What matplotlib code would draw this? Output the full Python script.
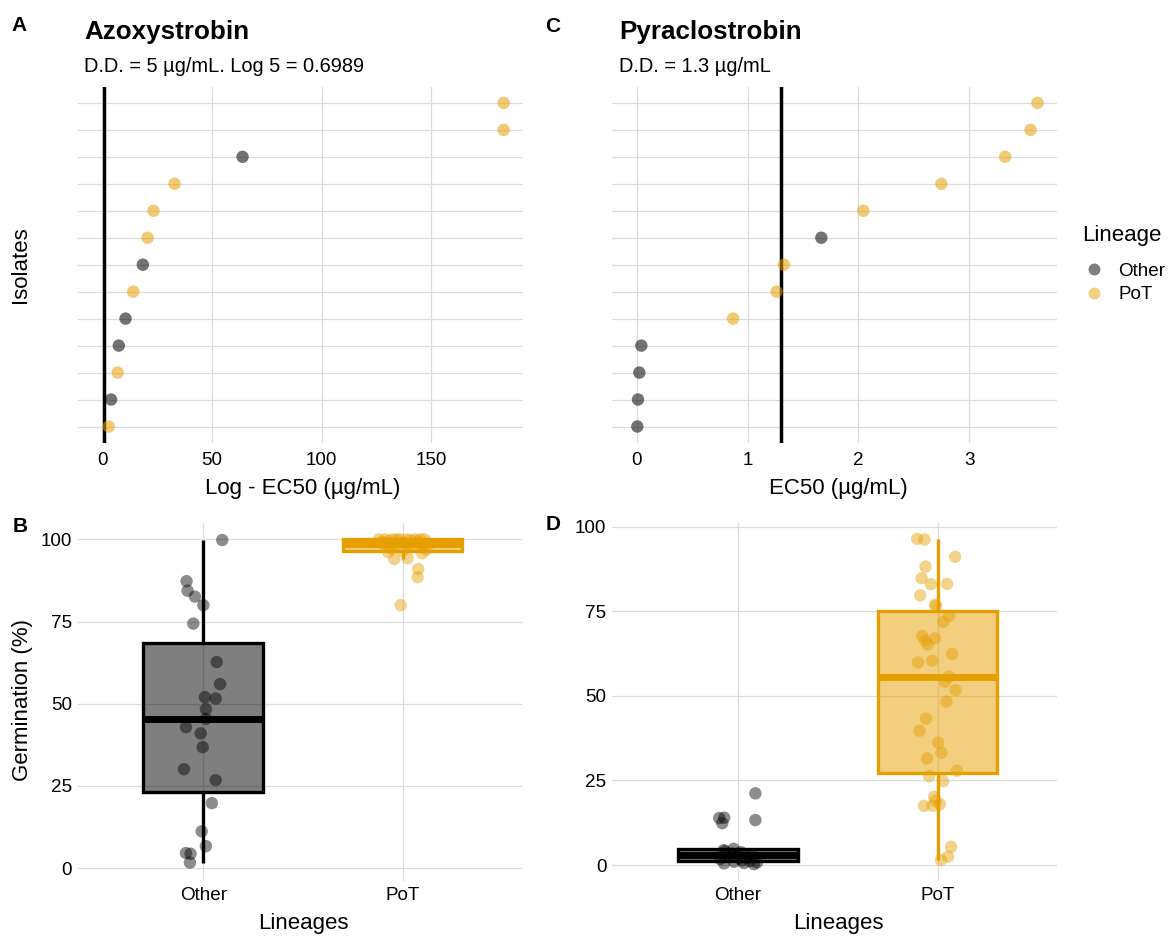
import numpy as np
import matplotlib
matplotlib.use('Agg')
import matplotlib.pyplot as plt
from matplotlib.lines import Line2D

# Arial-compatible font for everything
plt.rcParams['font.family'] = ['Liberation Sans', 'DejaVu Sans']

W, H = 1171, 936

lineages = ['Other', 'PoT']
colores = {'Other': '#000000', 'PoT': '#E69F00'}

# --- A: azoxystrobin EC50 por aislado (de abajo hacia arriba) ---
a_ec50 = [2.7, 3.8, 6.8, 7.3, 10.4, 13.9, 18.3, 20.5, 23.2, 32.8, 63.9, 183.3, 183.3]
a_lineage = ['PoT', 'Other', 'PoT', 'Other', 'Other', 'PoT', 'Other',
             'PoT', 'PoT', 'PoT', 'Other', 'PoT', 'PoT']
a_dd = 0.6989

# --- C: pyraclostrobin EC50 por aislado (de abajo hacia arriba) ---
c_ec50 = [0.006, 0.012, 0.024, 0.042, 0.87, 1.262, 1.328, 1.666, 2.045, 2.75, 3.325, 3.554, 3.617]
c_lineage = ['Other', 'Other', 'Other', 'Other', 'PoT', 'PoT', 'PoT',
             'Other', 'PoT', 'PoT', 'PoT', 'PoT', 'PoT']
c_dd = 1.3

# --- B: germinacion con azoxystrobin ---
b_other = [99.8, 87.3, 84.4, 82.6, 80.0, 74.4, 62.7, 56.0, 52.0, 51.6, 48.4, 45.4,
           42.9, 41.0, 36.8, 30.1, 26.8, 19.8, 11.2, 6.7, 4.6, 4.4, 1.7]
b_other_jit = [0.095, -0.084, -0.079, -0.042, 0.0, -0.05, 0.067, 0.084, 0.008, 0.062, 0.013, 0.013,
               -0.087, -0.013, -0.003, -0.097, 0.062, 0.043, -0.008, 0.013, -0.087, -0.064, -0.067]
b_pot = [100, 100, 100, 100, 100, 100, 100, 100, 100, 99.8, 99.6, 99.4, 99.2, 99.0, 98.7,
         98.6, 98.5, 98.3, 98.0, 97.7, 97.3, 96.9, 96.5, 96.1, 95.8, 94.3, 94.0, 91.0, 88.5, 80.0]
b_pot_jit = [-0.12, -0.089, -0.05, -0.013, 0.02, 0.062, 0.09, 0.11, -0.03,
             0.04, -0.07, 0.075, -0.105, 0.005, 0.115, -0.04, 0.03, -0.09, 0.1, 0.06,
             -0.06, 0.12, 0.0, -0.072, 0.098, 0.025, -0.042, 0.078, 0.075, -0.01]

# --- D: germinacion con pyraclostrobin ---
d_other = [0.3, 0.5, 0.6, 0.8, 1.0, 1.2, 1.4, 1.8, 2.2, 2.6, 2.9, 3.1, 3.4, 3.8, 4.1, 4.4, 4.8,
           12.4, 13.3, 13.9, 14.0, 21.2]
d_other_jit = [0.08, -0.07, 0.03, 0.095, -0.02, 0.06, 0.02, -0.09, 0.045, -0.05, 0.0, 0.07,
               -0.03, 0.015, -0.065, -0.072, -0.022,
               -0.079, 0.087, -0.094, -0.069, 0.087]
d_pot = [96.4, 96.2, 91.1, 88.2, 84.8, 83.0, 83.1, 79.7, 77.0, 76.6, 73.6, 71.9, 67.7, 67.0,
         66.3, 65.2, 62.4, 59.9, 60.4, 55.7, 54.2, 51.7, 48.3, 43.3, 39.7, 36.2, 33.2, 31.5,
         27.9, 26.3, 24.8, 20.2, 19.0, 17.5, 17.5, 18.0, 5.4, 2.5, 1.5]
d_pot_jit = [-0.102, -0.065, 0.088, -0.06, -0.08, -0.033, 0.048, -0.087, -0.012, -0.008, 0.058,
             0.028, -0.077, -0.013, -0.062, -0.05, 0.073, -0.098, -0.027, 0.058, 0.037, 0.09,
             0.045, -0.058, -0.09, 0.003, 0.02, -0.053, 0.097, -0.042, 0.028, -0.017, -0.01,
             -0.068, -0.025, 0.012, 0.068, 0.053, 0.017]

fig = plt.figure(figsize=(W / 100, H / 100), dpi=100)


def add_ax(l, t, r, b):
    # ejes en pixeles (origen arriba a la izquierda)
    return fig.add_axes([l / W, 1 - b / H, (r - l) / W, (b - t) / H])


def estilo(ax):
    for s in ax.spines.values():
        s.set_visible(False)
    ax.grid(True, color='#DCDCDC', lw=0.9)
    ax.set_axisbelow(True)
    ax.tick_params(length=0, labelsize=13.6, colors='black')


def rotulo(x, y, s, size=16, **kw):
    fig.text(x / W, 1 - y / H, s, fontsize=size, ha='center', va='center', **kw)


def dotplot(ax, ec50, lin, dd):
    filas = np.arange(1, len(ec50) + 1)
    ax.axvline(dd, color='black', lw=2.5, zorder=2)
    for lg in lineages:
        m = np.array(lin) == lg
        ax.scatter(np.array(ec50)[m], filas[m], s=80, color=colores[lg],
                   alpha=0.55, edgecolors='none', zorder=3)
    ax.set_yticks(filas)
    ax.set_yticklabels([])
    ax.set_ylim(0.4, 13.6)
    ax.tick_params(axis='x', pad=7)


def cajas(ax, otros, otros_jit, pot, pot_jit):
    for i, (datos, jit, lg) in enumerate([(otros, otros_jit, 'Other'), (pot, pot_jit, 'PoT')]):
        c = colores[lg]
        ax.boxplot([datos], positions=[i + 1], widths=0.6, whis=1.5,
                   showcaps=False, showfliers=False, patch_artist=True,
                   boxprops=dict(facecolor=matplotlib.colors.to_rgba(c, 0.5), edgecolor=c, linewidth=2.4),
                   medianprops=dict(color=c, linewidth=5.0, solid_capstyle='butt'),
                   whiskerprops=dict(color=c, linewidth=2.4, solid_capstyle='butt'))
        ax.scatter(i + 1 + np.array(jit), datos, s=80, color=c, alpha=0.45,
                   edgecolors='none', zorder=4)
    ax.set_xticks([1, 2])
    ax.set_xticklabels(lineages)
    ax.set_yticks([0, 25, 50, 75, 100])
    ax.set_xlim(0.37, 2.6)
    ax.tick_params(axis='x', pad=4.5)
    ax.tick_params(axis='y', pad=4.2)


# A
axA = add_ax(78.3, 86.7, 523.4, 442.7)
estilo(axA)
dotplot(axA, a_ec50, a_lineage, a_dd)
axA.set_xticks([0, 50, 100, 150])
axA.set_xlim(-11.2, 192.3)

# C
axC = add_ax(612.3, 86.7, 1056.7, 442.7)
estilo(axC)
dotplot(axC, c_ec50, c_lineage, c_dd)
axC.set_xticks([0, 1, 2, 3])
axC.set_xlim(-0.22, 3.79)

# B
axB = add_ax(77.7, 523.3, 522.3, 881)
estilo(axB)
cajas(axB, b_other, b_other_jit, b_pot, b_pot_jit)
axB.set_ylim(-3.9, 104.9)

# D
axD = add_ax(612.3, 523.3, 1057.3, 881)
estilo(axD)
cajas(axD, d_other, d_other_jit, d_pot, d_pot_jit)
axD.set_ylim(-4.7, 101.0)

# titulos y subtitulos
fig.text(84 / W, 1 - 39.5 / H, 'Azoxystrobin', fontsize=18.7, fontweight='bold', va='baseline')
fig.text(84 / W, 1 - 71.7 / H, 'D.D. = 5 µg/mL. Log 5 = 0.6989', fontsize=14.4, va='baseline')
fig.text(619 / W, 1 - 39.5 / H, 'Pyraclostrobin', fontsize=18.7, fontweight='bold', va='baseline')
fig.text(619 / W, 1 - 71.7 / H, 'D.D. = 1.3 µg/mL', fontsize=14.4, va='baseline')

# etiquetas de paneles
for letra, x, y in [('A', 19.5, 25.5), ('C', 553, 26.5), ('B', 19.7, 527), ('D', 553, 525)]:
    rotulo(x, y, letra, size=15, fontweight='bold')

# titulos de ejes
rotulo(303, 488, 'Log - EC50 (µg/mL)')
rotulo(838, 488, 'EC50 (µg/mL)')
rotulo(303, 924, 'Lineages')
rotulo(838, 924, 'Lineages')
rotulo(21, 265, 'Isolates', rotation=90)
rotulo(22.5, 700, 'Germination (%)', rotation=90)

# leyenda
fig.text(1081.7 / W, 1 - 235 / H, 'Lineage', fontsize=16, va='center')
handles = [Line2D([], [], ls='none', marker='o', markersize=8.6, markeredgewidth=0,
                  color=colores[lg], alpha=0.5) for lg in lineages]
fig.legend(handles, lineages, loc='upper left',
           bbox_to_anchor=(1081.7 / W, 1 - 262.5 / H), frameon=False,
           fontsize=13.6, borderpad=0, borderaxespad=0, handlelength=1.33,
           handletextpad=0.6, labelspacing=0.33)

fig.savefig('out.png', dpi=100)
